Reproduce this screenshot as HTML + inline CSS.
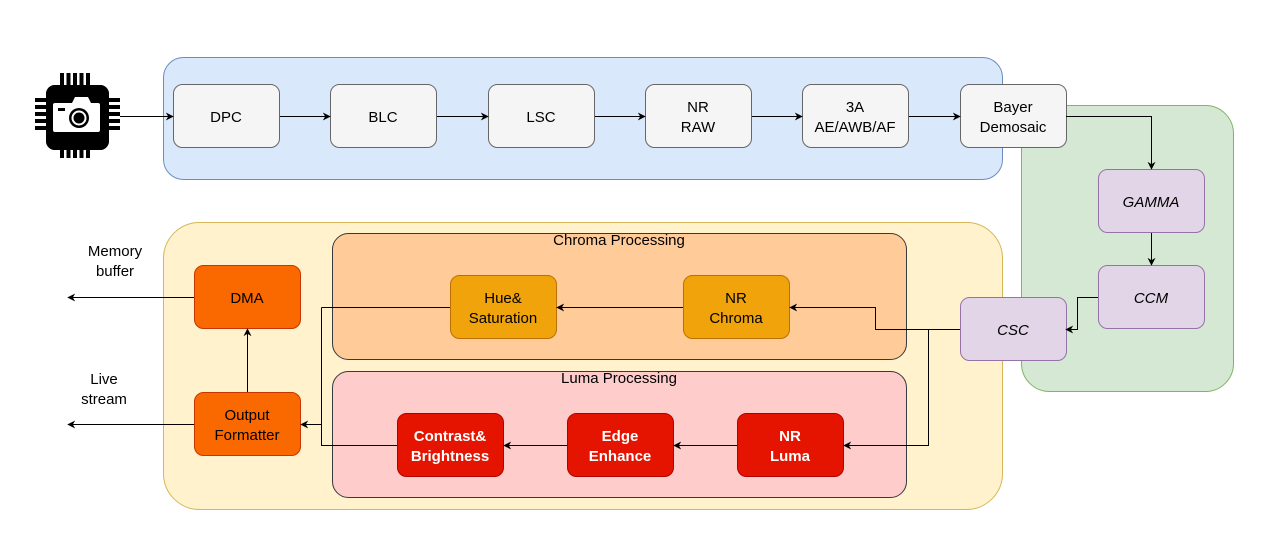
<!DOCTYPE html>
<html><head><meta charset="utf-8"><style>
html,body{margin:0;padding:0;background:#fff;}
svg text{font-family:"Liberation Sans",sans-serif;font-size:15px;text-anchor:middle;}
</style></head><body>
<svg width="1286" height="549" viewBox="0 0 1286 549" xmlns="http://www.w3.org/2000/svg">
<defs>
<marker id="a" viewBox="0 0 10 10" refX="9" refY="5" markerWidth="8" markerHeight="8" orient="auto" markerUnits="userSpaceOnUse"><path d="M0,0 L10,5 L0,10 L3,5 Z" fill="#000"/></marker>
</defs>
<!-- containers -->
<rect x="163.5" y="57.5" width="839" height="122" rx="20" fill="#dae8fc" stroke="#6c8ebf"/>
<rect x="1021.5" y="105.5" width="212" height="286" rx="28" fill="#d5e8d4" stroke="#82b366"/>
<rect x="163.5" y="222.5" width="839" height="287" rx="36" fill="#fff2cc" stroke="#d6b656"/>
<rect x="332.5" y="233.5" width="574" height="126" rx="16" fill="#ffcc99" stroke="#36393d"/>
<rect x="332.5" y="371.5" width="574" height="126" rx="16" fill="#ffcccc" stroke="#36393d"/>
<text x="619" y="245">Chroma Processing</text>
<text x="619" y="383">Luma Processing</text>

<!-- camera chip -->
<g fill="#000">
<rect x="46" y="85" width="63" height="65" rx="9"/>
<rect x="60" y="73" width="4" height="80"/><rect x="66.5" y="73" width="4" height="85"/><rect x="73" y="73" width="4" height="85"/><rect x="79.5" y="73" width="4" height="85"/><rect x="86" y="73" width="4" height="85"/>
<rect x="60" y="148" width="4" height="10"/>
<rect x="35" y="98" width="85" height="4"/><rect x="35" y="105" width="85" height="4"/><rect x="35" y="112" width="85" height="4"/><rect x="35" y="119" width="85" height="4"/><rect x="35" y="126" width="85" height="4"/>
<rect x="46" y="85" width="63" height="65" rx="9"/>
</g>
<rect x="53" y="103" width="47" height="29" rx="2" fill="#fff"/>
<path d="M72,103 L75,97 L88,97 L91,103 Z" fill="#fff"/>
<rect x="58" y="108" width="7" height="3" fill="#000"/>
<circle cx="79" cy="118" r="10" fill="#000"/>
<circle cx="79" cy="118" r="7.5" fill="#fff"/>
<circle cx="79" cy="118" r="5.5" fill="#000"/>

<!-- top row boxes -->
<g stroke="#666" fill="#f5f5f5">
<rect x="173.5" y="84.5" width="106" height="63" rx="9"/>
<rect x="330.5" y="84.5" width="106" height="63" rx="9"/>
<rect x="488.5" y="84.5" width="106" height="63" rx="9"/>
<rect x="645.5" y="84.5" width="106" height="63" rx="9"/>
<rect x="802.5" y="84.5" width="106" height="63" rx="9"/>
<rect x="960.5" y="84.5" width="106" height="63" rx="9"/>
</g>
<text x="226" y="122">DPC</text>
<text x="383" y="122">BLC</text>
<text x="541" y="122">LSC</text>
<text x="698" y="112">NR</text><text x="698" y="132">RAW</text>
<text x="855" y="112">3A</text><text x="855" y="132">AE/AWB/AF</text>
<text x="1013" y="112">Bayer</text><text x="1013" y="132">Demosaic</text>

<!-- purple -->
<g stroke="#9673a6" fill="#e1d5e7">
<rect x="1098.5" y="169.5" width="106" height="63" rx="9"/>
<rect x="1098.5" y="265.5" width="106" height="63" rx="9"/>
<rect x="960.5" y="297.5" width="106" height="63" rx="9"/>
</g>
<text x="1151" y="207" font-style="italic">GAMMA</text>
<text x="1151" y="303" font-style="italic">CCM</text>
<text x="1013" y="335" font-style="italic">CSC</text>

<!-- chroma -->
<g stroke="#BD7000" fill="#f0a30a">
<rect x="450.5" y="275.5" width="106" height="63" rx="9"/>
<rect x="683.5" y="275.5" width="106" height="63" rx="9"/>
</g>
<text x="503" y="303">Hue&amp;</text><text x="503" y="323">Saturation</text>
<text x="736" y="303">NR</text><text x="736" y="323">Chroma</text>

<!-- luma -->
<g stroke="#B20000" fill="#e51400">
<rect x="397.5" y="413.5" width="106" height="63" rx="9"/>
<rect x="567.5" y="413.5" width="106" height="63" rx="9"/>
<rect x="737.5" y="413.5" width="106" height="63" rx="9"/>
</g>
<g fill="#fff" font-weight="bold">
<text x="450" y="441">Contrast&amp;</text><text x="450" y="461">Brightness</text>
<text x="620" y="441">Edge</text><text x="620" y="461">Enhance</text>
<text x="790" y="441">NR</text><text x="790" y="461">Luma</text>
</g>

<!-- orange -->
<g stroke="#C73500" fill="#fa6800">
<rect x="194.5" y="265.5" width="106" height="63" rx="9"/>
<rect x="194.5" y="392.5" width="106" height="63" rx="9"/>
</g>
<text x="247" y="303">DMA</text>
<text x="247" y="420">Output</text><text x="247" y="440">Formatter</text>

<text x="115" y="256">Memory</text><text x="115" y="276">buffer</text>
<text x="104" y="384">Live</text><text x="104" y="404">stream</text>

<!-- connectors -->
<g stroke="#000" stroke-width="1" fill="none" marker-end="url(#a)">
<path d="M120,116.5 H173"/>
<path d="M280,116.5 H330"/>
<path d="M437,116.5 H488"/>
<path d="M595,116.5 H645"/>
<path d="M752,116.5 H802"/>
<path d="M909,116.5 H960"/>
<path d="M1066,116.5 H1151.5 V169"/>
<path d="M1151.5,233 V265"/>
<path d="M1098,297.5 H1077.5 V329.5 H1066"/>
<path d="M960,329.5 H875.5 V307.5 H790"/>
<path d="M928.5,329.5 V445.5 H844"/>
<path d="M737,445.5 H674"/>
<path d="M567,445.5 H504"/>
<path d="M683,307.5 H557"/>
<path d="M321.5,307.5 V424.5 H301"/>
<path d="M247.5,392 V329"/>
<path d="M194,297.5 H68"/>
<path d="M194,424.5 H68"/>
</g>
<g stroke="#000" fill="none">
<path d="M450,307.5 H321.5"/>
<path d="M397,445.5 H321.5 V424.5"/>
</g>
</svg>
</body></html>
